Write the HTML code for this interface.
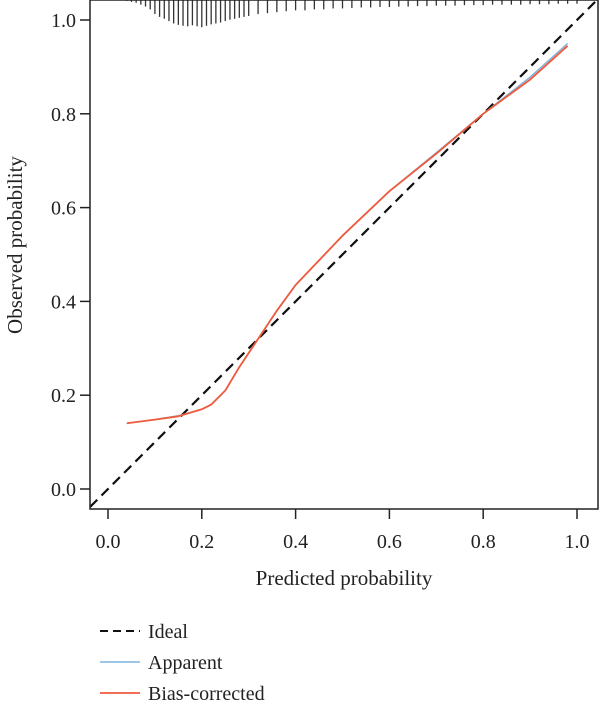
<!DOCTYPE html>
<html><head><meta charset="utf-8"><style>
body{margin:0;background:#fff;}
svg text{font-family:"Liberation Serif",serif;fill:#222;}
</style></head><body>
<svg id="chart" width="600" height="713" viewBox="0 0 600 713" xmlns="http://www.w3.org/2000/svg">
<g id="rug"></g>
<g id="plot"></g>
<rect x="90" y="0" width="508" height="509" fill="none" stroke="#222" stroke-width="1.5"/>
<g id="axes"></g>
<text x="344" y="585" font-size="21" text-anchor="middle">Predicted probability</text>
<text transform="translate(22,245) rotate(-90)" font-size="21" text-anchor="middle">Observed probability</text>
<g>
<g><line x1="100" y1="631" x2="140" y2="631" stroke="#111" stroke-width="2" stroke-dasharray="8,5"/><text x="148" y="638" font-size="20">Ideal</text></g>
<g><line x1="100" y1="662" x2="140" y2="662" stroke="#7fb2dd" stroke-width="1.5"/><text x="148" y="669" font-size="20">Apparent</text></g>
<g><line x1="100" y1="693" x2="140" y2="693" stroke="#f05a3c" stroke-width="1.8"/><text x="148" y="700" font-size="20">Bias-corrected</text></g>
</g>
</svg>
<script>
const xTicks=[0,0.2,0.4,0.6,0.8,1.0];
const yTicks=[0,0.2,0.4,0.6,0.8,1.0];
const tickLabels=["0.0","0.2","0.4","0.6","0.8","1.0"];
const apparentX=[0.04,0.1,0.15,0.2,0.22,0.25,0.28,0.32,0.36,0.4,0.5,0.6,0.7,0.8,0.9,0.98];
const apparentY=[0.14,0.148,0.156,0.17,0.18,0.21,0.26,0.32,0.38,0.435,0.54,0.635,0.717,0.8,0.878,0.95];
const biasX=[0.04,0.1,0.15,0.2,0.22,0.25,0.28,0.32,0.36,0.4,0.5,0.6,0.7,0.8,0.9,0.98];
const biasY=[0.14,0.148,0.155,0.17,0.18,0.21,0.26,0.32,0.38,0.435,0.54,0.635,0.715,0.8,0.873,0.945];
const rugX=[0.04,0.05,0.06,0.07,0.08,0.09,0.1,0.11,0.12,0.13,0.14,0.15,0.16,0.17,0.18,0.19,0.2,0.21,0.22,0.23,0.24,0.25,0.26,0.27,0.28,0.29,0.3,0.32,0.34,0.36,0.38,0.4,0.42,0.44,0.46,0.48,0.5,0.52,0.54,0.56,0.58,0.6,0.62,0.64,0.66,0.68,0.7,0.72,0.74,0.76,0.78,0.8,0.82,0.84,0.86,0.88,0.9,0.92,0.94,0.96,0.98,1.0];
const rugH=[0.002,0.004,0.006,0.01,0.014,0.02,0.03,0.036,0.04,0.045,0.05,0.053,0.055,0.056,0.054,0.056,0.058,0.055,0.052,0.05,0.048,0.045,0.042,0.04,0.038,0.036,0.034,0.03,0.028,0.026,0.024,0.022,0.022,0.02,0.02,0.018,0.018,0.017,0.016,0.016,0.015,0.015,0.014,0.014,0.013,0.013,0.012,0.012,0.012,0.011,0.011,0.011,0.01,0.01,0.01,0.01,0.009,0.009,0.009,0.008,0.008,0.008];
const NS="http://www.w3.org/2000/svg";
const sx=v=>108+v*469, sy=v=>489-v*469;
function mk(t,a,p){const e=document.createElementNS(NS,t);for(const k in a)e.setAttribute(k,a[k]);p.appendChild(e);return e;}
const axes=document.getElementById('axes'),plot=document.getElementById('plot'),rug=document.getElementById('rug');
xTicks.forEach((v,i)=>{
 const l=mk('line',{x1:sx(v),x2:sx(v),y1:509,y2:519,stroke:'#222','stroke-width':1.5},axes);
 
 
 const t=mk('text',{x:sx(v),y:548,'font-size':20,'text-anchor':'middle'},axes);t.textContent=tickLabels[i];
 
 
});
yTicks.forEach((v,i)=>{
 const l=mk('line',{x1:80,x2:90,y1:sy(v),y2:sy(v),stroke:'#222','stroke-width':1.5},axes);
 
 
 const t=mk('text',{x:76,y:sy(v)+7,'font-size':20,'text-anchor':'end'},axes);t.textContent=tickLabels[i];
 
 
});
rugX.forEach((v,i)=>{
 const l=mk('line',{x1:sx(v),x2:sx(v),y1:0,y2:rugH[i]*469,stroke:'#333','stroke-width':1.3},rug);
 
 
});
const ideal=mk('line',{x1:sx(-0.038),y1:sy(-0.038),x2:sx(1.045),y2:sy(1.045),stroke:'#111','stroke-width':2.2,'stroke-dasharray':'10,6'},plot);


const pth=(X,Y)=>X.map((x,i)=>(i?'L':'M')+sx(x).toFixed(1)+','+sy(Y[i]).toFixed(1)).join('');
const ap=mk('path',{d:pth(apparentX,apparentY),fill:'none',stroke:'#7fb2dd','stroke-width':1.5},plot);


const bc=mk('path',{d:pth(biasX,biasY),fill:'none',stroke:'#f05a3c','stroke-width':1.8,'stroke-linejoin':'round'},plot);


</script>
</body></html>
